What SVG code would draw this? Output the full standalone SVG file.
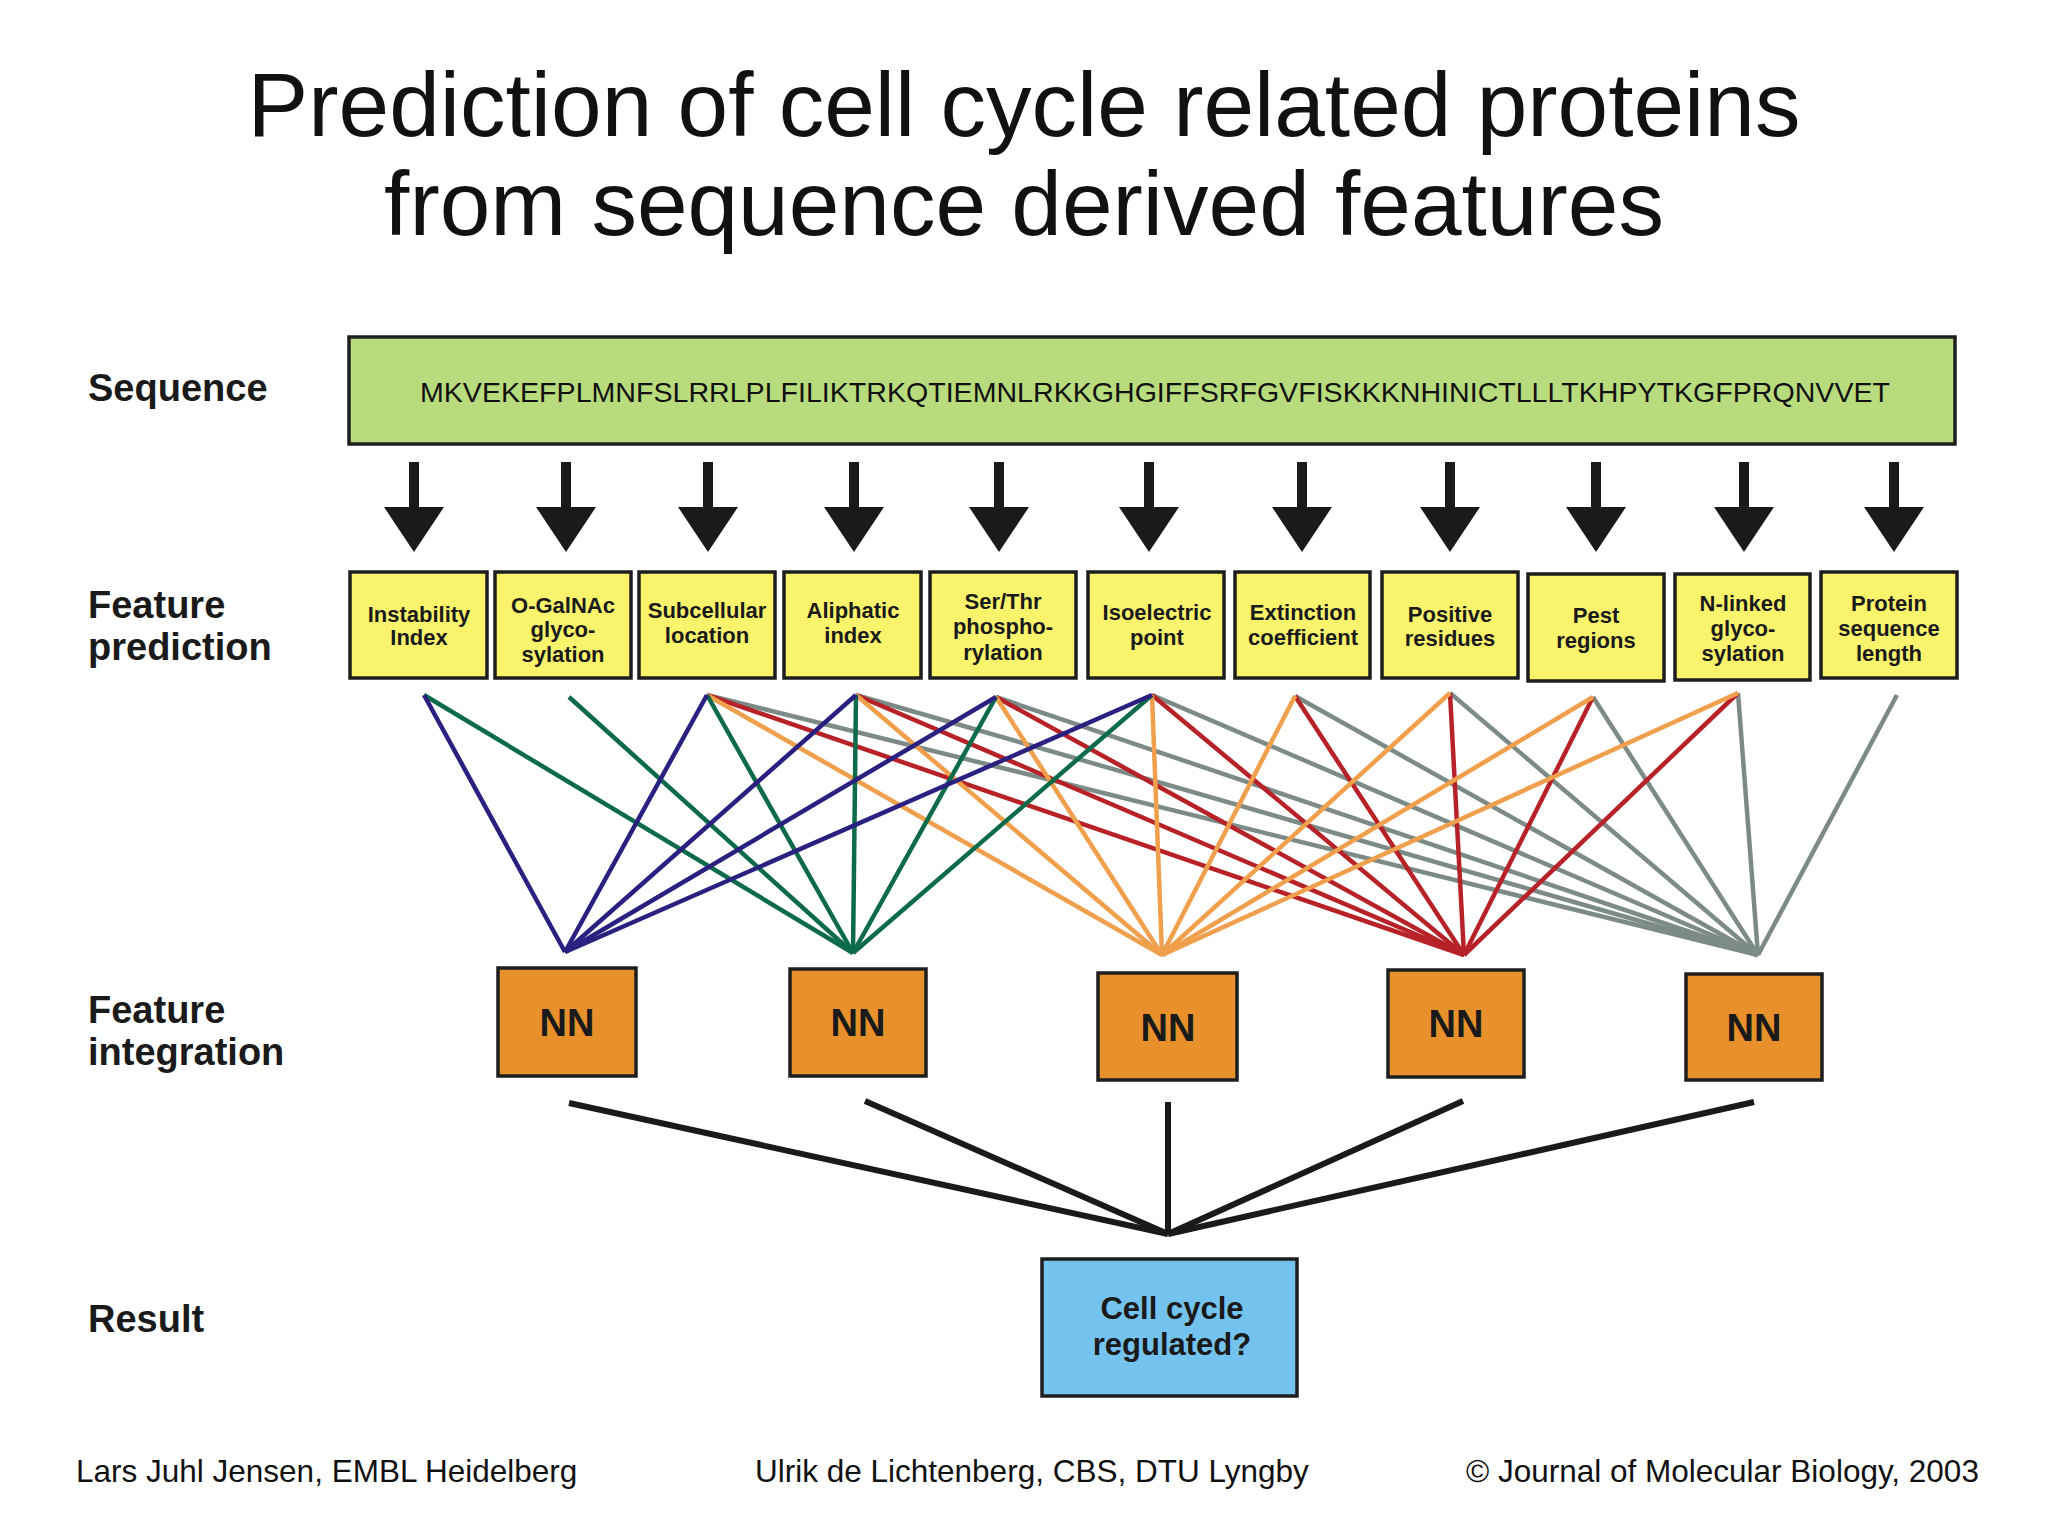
<svg xmlns="http://www.w3.org/2000/svg" width="2048" height="1536" viewBox="0 0 2048 1536">
<style>
.title{font-family:"Liberation Sans",Arial,sans-serif;font-size:91px;fill:#111;text-anchor:middle}
.lab{font-family:"Liberation Sans",Arial,sans-serif;font-size:38px;font-weight:bold;fill:#1a1a1a}
.seq{font-family:"Liberation Sans",Arial,sans-serif;font-size:28px;fill:#111}
.ft{font-family:"Liberation Sans",Arial,sans-serif;font-size:22px;font-weight:bold;fill:#1a1a1a;text-anchor:middle}
.nn{font-family:"Liberation Sans",Arial,sans-serif;font-size:38px;font-weight:bold;fill:#1a1a1a;text-anchor:middle}
.res{font-family:"Liberation Sans",Arial,sans-serif;font-size:31px;font-weight:bold;fill:#1a1a1a;text-anchor:middle}
.foot{font-family:"Liberation Sans",Arial,sans-serif;font-size:31.5px;fill:#111}
.fbox{fill:#f9f46c;stroke:#1e1e1e;stroke-width:3.5}
.nbox{fill:#e8912c;stroke:#1e1e1e;stroke-width:3.5}
.arrow{fill:#1a1a1a}
.blue{stroke:#2a2080;stroke-width:4.5;fill:none}
.green{stroke:#0d6b4b;stroke-width:4.5;fill:none}
.orange{stroke:#f0a04c;stroke-width:4.5;fill:none}
.red{stroke:#b62227;stroke-width:4.5;fill:none}
.gray{stroke:#7d8b86;stroke-width:4.5;fill:none}
.blk{stroke:#1a1a1a;stroke-width:6;fill:none}
</style>
<rect x="0" y="0" width="2048" height="1536" fill="#ffffff"/>

<g id="title">
<text class="title" x="1024" y="136">Prediction of cell cycle related proteins</text>
<text class="title" x="1024" y="235">from sequence derived features</text>
</g>

<g id="row-labels">
<text class="lab" x="88" y="401">Sequence</text>
<text class="lab" x="88" y="618">Feature</text>
<text class="lab" x="88" y="660">prediction</text>
<text class="lab" x="88" y="1023">Feature</text>
<text class="lab" x="88" y="1065">integration</text>
<text class="lab" x="88" y="1332">Result</text>
</g>

<g id="sequence">
<rect x="349" y="337" width="1606" height="107" fill="#b8dc7d" stroke="#1e1e1e" stroke-width="3.5"/>
<text class="seq" x="420" y="402" textLength="1470" lengthAdjust="spacingAndGlyphs">MKVEKEFPLMNFSLRRLPLFILIKTRKQTIEMNLRKKGHGIFFSRFGVFISKKKNHINICTLLLTKHPYTKGFPRQNVVET</text>
</g>

<g id="arrows">
<path class="arrow" d="M409 462h10v45h25l-30 45l-30-45h25z"/>
<path class="arrow" d="M561 462h10v45h25l-30 45l-30-45h25z"/>
<path class="arrow" d="M703 462h10v45h25l-30 45l-30-45h25z"/>
<path class="arrow" d="M849 462h10v45h25l-30 45l-30-45h25z"/>
<path class="arrow" d="M994 462h10v45h25l-30 45l-30-45h25z"/>
<path class="arrow" d="M1144 462h10v45h25l-30 45l-30-45h25z"/>
<path class="arrow" d="M1297 462h10v45h25l-30 45l-30-45h25z"/>
<path class="arrow" d="M1445 462h10v45h25l-30 45l-30-45h25z"/>
<path class="arrow" d="M1591 462h10v45h25l-30 45l-30-45h25z"/>
<path class="arrow" d="M1739 462h10v45h25l-30 45l-30-45h25z"/>
<path class="arrow" d="M1889 462h10v45h25l-30 45l-30-45h25z"/>
</g>

<g id="feature-instability">
<rect class="fbox" x="350" y="572" width="137" height="106"/>
<text class="ft" x="419" y="622">Instability</text>
<text class="ft" x="419" y="645">Index</text>
</g>
<g id="feature-ogalnac">
<rect class="fbox" x="495" y="572" width="136" height="106"/>
<text class="ft" x="563" y="613">O-GalNAc</text>
<text class="ft" x="563" y="637">glyco-</text>
<text class="ft" x="563" y="662">sylation</text>
</g>
<g id="feature-subcellular">
<rect class="fbox" x="639" y="572" width="136" height="106"/>
<text class="ft" x="707" y="618">Subcellular</text>
<text class="ft" x="707" y="643">location</text>
</g>
<g id="feature-aliphatic">
<rect class="fbox" x="784" y="572" width="137" height="106"/>
<text class="ft" x="853" y="618">Aliphatic</text>
<text class="ft" x="853" y="643">index</text>
</g>
<g id="feature-serthr">
<rect class="fbox" x="930" y="572" width="146" height="106"/>
<text class="ft" x="1003" y="609">Ser/Thr</text>
<text class="ft" x="1003" y="634">phospho-</text>
<text class="ft" x="1003" y="660">rylation</text>
</g>
<g id="feature-isoelectric">
<rect class="fbox" x="1088" y="572" width="136" height="106"/>
<text class="ft" x="1157" y="620">Isoelectric</text>
<text class="ft" x="1157" y="645">point</text>
</g>
<g id="feature-extinction">
<rect class="fbox" x="1235" y="572" width="135" height="106"/>
<text class="ft" x="1303" y="620">Extinction</text>
<text class="ft" x="1303" y="645">coefficient</text>
</g>
<g id="feature-positive">
<rect class="fbox" x="1382" y="572" width="136" height="106"/>
<text class="ft" x="1450" y="622">Positive</text>
<text class="ft" x="1450" y="646">residues</text>
</g>
<g id="feature-pest">
<rect class="fbox" x="1528" y="574" width="136" height="107"/>
<text class="ft" x="1596" y="623">Pest</text>
<text class="ft" x="1596" y="648">regions</text>
</g>
<g id="feature-nlinked">
<rect class="fbox" x="1675" y="574" width="135" height="106"/>
<text class="ft" x="1743" y="611">N-linked</text>
<text class="ft" x="1743" y="636">glyco-</text>
<text class="ft" x="1743" y="661">sylation</text>
</g>
<g id="feature-length">
<rect class="fbox" x="1821" y="572" width="136" height="106"/>
<text class="ft" x="1889" y="611">Protein</text>
<text class="ft" x="1889" y="636">sequence</text>
<text class="ft" x="1889" y="661">length</text>
</g>

<g id="connectors">
<g id="to-nn5">
<line class="gray" x1="707" y1="695" x2="1758" y2="955"/>
<line class="gray" x1="856" y1="695" x2="1758" y2="955"/>
<line class="gray" x1="996" y1="697" x2="1758" y2="955"/>
<line class="gray" x1="1152" y1="695" x2="1758" y2="955"/>
<line class="gray" x1="1295" y1="696" x2="1758" y2="955"/>
<line class="gray" x1="1450" y1="693" x2="1758" y2="955"/>
<line class="gray" x1="1593" y1="697" x2="1758" y2="955"/>
<line class="gray" x1="1738" y1="693" x2="1758" y2="955"/>
<line class="gray" x1="1897" y1="695" x2="1758" y2="955"/>
</g>
<g id="to-nn4">
<line class="red" x1="707" y1="695" x2="1464" y2="955"/>
<line class="red" x1="856" y1="695" x2="1464" y2="955"/>
<line class="red" x1="996" y1="697" x2="1464" y2="955"/>
<line class="red" x1="1152" y1="695" x2="1464" y2="955"/>
<line class="red" x1="1295" y1="696" x2="1464" y2="955"/>
<line class="red" x1="1450" y1="693" x2="1464" y2="955"/>
<line class="red" x1="1593" y1="697" x2="1464" y2="955"/>
<line class="red" x1="1738" y1="693" x2="1464" y2="955"/>
</g>
<g id="to-nn3">
<line class="orange" x1="707" y1="695" x2="1162" y2="955"/>
<line class="orange" x1="856" y1="695" x2="1162" y2="955"/>
<line class="orange" x1="996" y1="697" x2="1162" y2="955"/>
<line class="orange" x1="1152" y1="695" x2="1162" y2="955"/>
<line class="orange" x1="1295" y1="696" x2="1162" y2="955"/>
<line class="orange" x1="1450" y1="693" x2="1162" y2="955"/>
<line class="orange" x1="1593" y1="697" x2="1162" y2="955"/>
<line class="orange" x1="1738" y1="693" x2="1162" y2="955"/>
</g>
<g id="to-nn2">
<line class="green" x1="424" y1="695" x2="853" y2="953"/>
<line class="green" x1="569" y1="697" x2="853" y2="953"/>
<line class="green" x1="707" y1="695" x2="853" y2="953"/>
<line class="green" x1="856" y1="695" x2="853" y2="953"/>
<line class="green" x1="996" y1="697" x2="853" y2="953"/>
<line class="green" x1="1152" y1="695" x2="853" y2="953"/>
</g>
<g id="to-nn1">
<line class="blue" x1="424" y1="695" x2="565" y2="952"/>
<line class="blue" x1="707" y1="695" x2="565" y2="952"/>
<line class="blue" x1="856" y1="695" x2="565" y2="952"/>
<line class="blue" x1="996" y1="697" x2="565" y2="952"/>
<line class="blue" x1="1152" y1="695" x2="565" y2="952"/>
</g>
<g id="to-result">
<line class="blk" x1="569" y1="1103" x2="1168" y2="1234"/>
<line class="blk" x1="865" y1="1101" x2="1168" y2="1234"/>
<line class="blk" x1="1168" y1="1102" x2="1168" y2="1234"/>
<line class="blk" x1="1463" y1="1101" x2="1168" y2="1234"/>
<line class="blk" x1="1754" y1="1102" x2="1168" y2="1234"/>
</g>
</g>

<g id="nn1">
<rect class="nbox" x="498" y="968" width="138" height="108"/>
<text class="nn" x="567" y="1036">NN</text>
</g>
<g id="nn2">
<rect class="nbox" x="790" y="969" width="136" height="107"/>
<text class="nn" x="858" y="1036">NN</text>
</g>
<g id="nn3">
<rect class="nbox" x="1098" y="973" width="139" height="107"/>
<text class="nn" x="1168" y="1041">NN</text>
</g>
<g id="nn4">
<rect class="nbox" x="1388" y="970" width="136" height="107"/>
<text class="nn" x="1456" y="1037">NN</text>
</g>
<g id="nn5">
<rect class="nbox" x="1686" y="974" width="136" height="106"/>
<text class="nn" x="1754" y="1041">NN</text>
</g>

<g id="result">
<rect x="1042" y="1259" width="255" height="137" fill="#74c3ef" stroke="#1e1e1e" stroke-width="3.5"/>
<text class="res" x="1172" y="1319">Cell cycle</text>
<text class="res" x="1172" y="1355">regulated?</text>
</g>

<g id="footer">
<text class="foot" x="76" y="1482">Lars Juhl Jensen, EMBL Heidelberg</text>
<text class="foot" x="755" y="1482">Ulrik de Lichtenberg, CBS, DTU Lyngby</text>
<text class="foot" x="1466" y="1482">© Journal of Molecular Biology, 2003</text>
</g>
</svg>
